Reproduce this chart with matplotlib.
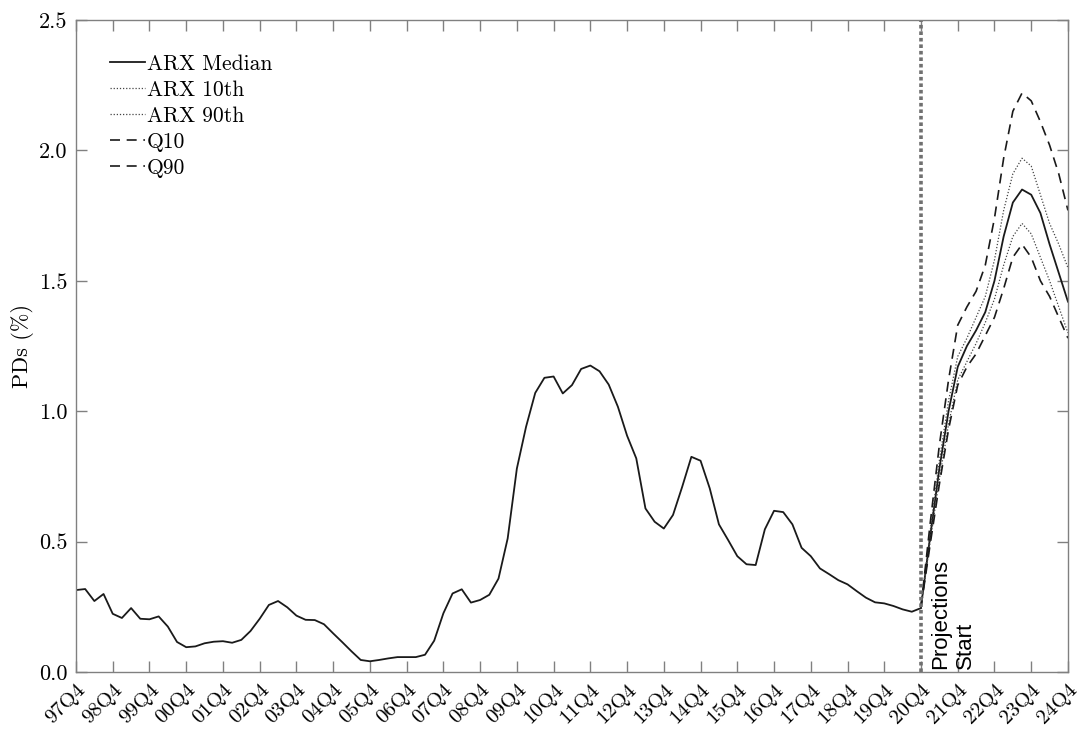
import numpy as np
import matplotlib
matplotlib.use("Agg")
import matplotlib.pyplot as plt

plt.rcParams["font.family"] = "serif"
plt.rcParams["font.serif"] = ["cmr10"]
plt.rcParams["axes.formatter.use_mathtext"] = True

# Quarterly tick labels, one per year (Q4)
tick_labels = ["97Q4", "98Q4", "99Q4", "00Q4", "01Q4", "02Q4", "03Q4", "04Q4",
               "05Q4", "06Q4", "07Q4", "08Q4", "09Q4", "10Q4", "11Q4", "12Q4",
               "13Q4", "14Q4", "15Q4", "16Q4", "17Q4", "18Q4", "19Q4", "20Q4",
               "21Q4", "22Q4", "23Q4", "24Q4"]

# Historical PDs (%), 97Q4 .. 20Q4
history = [0.314, 0.318, 0.272, 0.299, 0.223, 0.207, 0.245, 0.204, 0.202, 0.213,
           0.174, 0.115, 0.095, 0.098, 0.110, 0.116, 0.118, 0.112, 0.123, 0.157,
           0.204, 0.257, 0.272, 0.248, 0.216, 0.200, 0.199, 0.183, 0.148, 0.114,
           0.079, 0.046, 0.041, 0.046, 0.052, 0.057, 0.057, 0.057, 0.066, 0.120,
           0.225, 0.301, 0.317, 0.266, 0.276, 0.296, 0.358, 0.512, 0.780, 0.940,
           1.070, 1.128, 1.133, 1.068, 1.100, 1.162, 1.175, 1.153, 1.102, 1.017,
           0.906, 0.819, 0.627, 0.576, 0.550, 0.602, 0.710, 0.825, 0.810, 0.704,
           0.566, 0.506, 0.444, 0.413, 0.410, 0.547, 0.618, 0.613, 0.566, 0.476,
           0.444, 0.397, 0.375, 0.352, 0.336, 0.310, 0.285, 0.267, 0.263, 0.253,
           0.240, 0.231, 0.245]

# Projections, 20Q4 .. 24Q4
arx_median = [0.25, 0.52, 0.78, 1.00, 1.17, 1.25, 1.31, 1.38, 1.50, 1.67, 1.80,
              1.85, 1.83, 1.76, 1.64, 1.53, 1.42]
arx_10 = [0.25, 0.50, 0.74, 0.95, 1.12, 1.19, 1.26, 1.34, 1.43, 1.56, 1.67,
          1.72, 1.68, 1.59, 1.50, 1.40, 1.30]
arx_90 = [0.25, 0.54, 0.81, 1.04, 1.21, 1.28, 1.36, 1.44, 1.58, 1.77, 1.91,
          1.97, 1.94, 1.83, 1.72, 1.64, 1.55]
q10 = [0.25, 0.49, 0.72, 0.93, 1.10, 1.17, 1.22, 1.29, 1.36, 1.47, 1.59,
       1.64, 1.59, 1.50, 1.44, 1.36, 1.28]
q90 = [0.25, 0.57, 0.87, 1.12, 1.33, 1.40, 1.46, 1.56, 1.74, 1.97, 2.15,
       2.22, 2.19, 2.11, 2.02, 1.91, 1.77]

start = len(history) - 1
x_hist = np.arange(len(history))
x_proj = np.arange(start, start + len(arx_median))

fig = plt.figure(figsize=(10.84, 7.30), dpi=100)
ax = fig.add_axes([0.0701, 0.0795, 0.9151, 0.8931])

ax.plot(x_hist, history, color="#1a1a1a", lw=1.3)
ax.plot(x_proj, arx_median, color="#1a1a1a", lw=1.3, label="ARX Median")
ax.plot(x_proj, arx_10, color="#444444", lw=0.9, ls=(0, (1, 1.5)), label="ARX 10th")
ax.plot(x_proj, arx_90, color="#444444", lw=0.9, ls=(0, (1, 1.5)), label="ARX 90th")
ax.plot(x_proj, q10, color="#1a1a1a", lw=1.2, ls=(0, (6, 4)), label="Q10")
ax.plot(x_proj, q90, color="#1a1a1a", lw=1.2, ls=(0, (6, 4)), label="Q90")

ax.axvline(start, color="#707070", lw=2.6, ls=(0, (1, 0.8)))
ax.text(start + 1.0, 0.012, "Projections\nStart", rotation=90, ha="left", va="bottom",
        family="Liberation Sans", fontsize=16, linespacing=1.25)

ax.set_xlim(0, len(tick_labels) * 4 - 4)
ax.set_ylim(0, 2.5)
ax.set_xticks(np.arange(0, len(tick_labels) * 4, 4))
ax.set_xticklabels(tick_labels, rotation=45, ha="right", va="top",
                   rotation_mode="anchor", fontsize=15)
ax.set_yticks(np.arange(0, 2.51, 0.5))
ax.set_yticklabels([f"{v:.1f}" for v in np.arange(0, 2.51, 0.5)], fontsize=16)
ax.set_ylabel("PDs (%)", fontsize=16, labelpad=4)

ax.tick_params(direction="in", length=8, width=1, color="#808080",
               top=True, right=True, pad=6)
for s in ax.spines.values():
    s.set_color("#808080")
    s.set_linewidth(1.0)

ax.legend(loc="upper left", bbox_to_anchor=(0.0, 1.0), frameon=False, fontsize=15.5,
          handlelength=1.6, handletextpad=0.1, labelspacing=0.3, borderaxespad=1.2)

fig.savefig("out.png", dpi=100)
